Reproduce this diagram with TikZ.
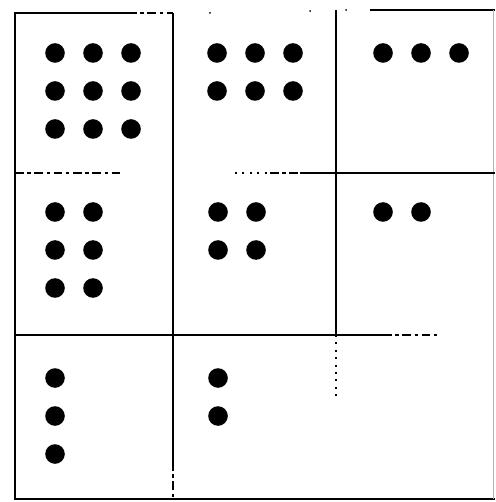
\documentclass[tikz,border=0pt]{standalone}
\usepackage{tikz}
\tikzset{
  gridline/.style={line width=1.2pt, black},
  brokenline/.style={line width=1.2pt, black, dash pattern=on 5pt off 2pt on 2pt off 2pt},
  dotline/.style={line width=1.2pt, black, dash pattern=on 1.2pt off 3pt},
}
\begin{document}
\begin{tikzpicture}[x=0.02cm, y=-0.02cm]
	\useasboundingbox (0,0) rectangle (495,502);
	% frame
	\draw[gridline] (128,13) -- (15,13) -- (15,499) -- (495,499);
	\draw[brokenline] (128,13) -- (173,13);
	\draw[gridline] (370,10) -- (495,10);
	\draw[black!30, line width=0.4pt] (493,10) -- (493,499);
	% verticals
	\draw[gridline] (173,13) -- (173,462);
	\draw[brokenline] (173,462) -- (173,499);
	\draw[gridline] (336,10) -- (336,335);
	\draw[dotline] (336,335) -- (336,400);
	% horizontals
	\draw[brokenline] (15,173) -- (122,173);
	\draw[dotline] (235,173) -- (270,173);
	\draw[brokenline] (270,173) -- (300,173);
	\draw[gridline] (300,173) -- (495,173);
	\draw[gridline] (15,335) -- (383,335);
	\draw[brokenline] (383,335) -- (437,335);
	% specks on the top line
	\fill (210,13) circle (1);
	\fill (310,11) circle (1);
	\fill (346,10) circle (1);
	% dot arrays
	\foreach \x/\y/\c/\r in {55/53/3/3, 217/53/3/2, 383/53/3/1,
	                          55/212/2/3, 218/212/2/2, 383/212/2/1,
	                          55/378/1/3, 218/378/1/2} {
		\foreach \i in {1,...,\c}
			\foreach \j in {1,...,\r}
				\fill[black] (\x+38*\i-38, \y+38*\j-38) circle (9.8);
	}
\end{tikzpicture}
\end{document}
